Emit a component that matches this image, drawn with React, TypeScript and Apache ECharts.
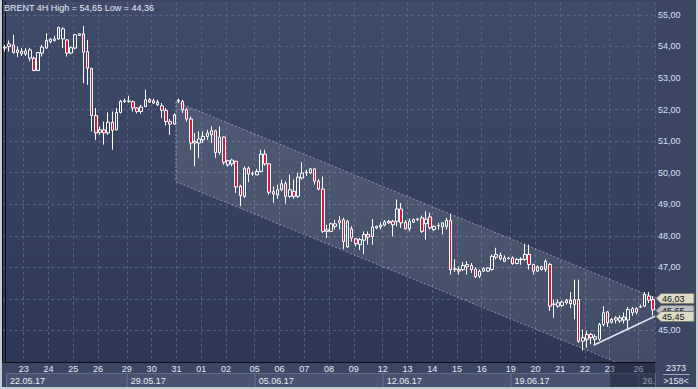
import { useEffect, useRef } from 'react';
import * as echarts from 'echarts';

// ---- data (4H candles, 22.05.17 – 26.06.17) ----
const opens = [
  53.95, 54.00, 54.05, 53.81, 53.85, 53.76, 53.63, 53.63, 53.24, 53.79,
  53.95, 54.15, 54.19, 54.24, 54.24, 54.21, 53.79, 53.95, 54.35, 54.40,
  53.84, 53.31, 51.81, 51.28, 51.36, 51.26, 51.60, 51.36, 51.91, 52.26,
  52.27, 52.25, 52.05, 51.94, 52.10, 52.31, 52.28, 52.15, 52.12, 51.97,
  51.62, 51.54, 52.27, 52.26, 51.99, 51.70, 50.94, 50.94, 51.04, 51.15,
  51.20, 51.33, 50.64, 51.13, 50.25, 50.28, 50.36, 49.57, 49.25, 50.14,
  49.96, 49.93, 50.04, 50.59, 50.28, 49.40, 49.30, 49.46, 49.65, 49.25,
  49.41, 49.25, 49.83, 50.00, 49.99, 50.12, 49.73, 49.48, 48.14, 48.14,
  48.30, 48.41, 48.51, 47.65, 48.22, 47.90, 47.72, 47.86, 48.04, 47.98,
  48.25, 48.28, 48.34, 48.41, 48.46, 48.46, 48.85, 48.43, 48.22, 48.43,
  48.51, 48.57, 48.38, 48.60, 48.20, 48.32, 48.28, 48.30, 48.49, 46.93,
  46.93, 46.93, 47.02, 47.06, 46.95, 46.72, 46.88, 46.88, 46.93, 47.32,
  47.38, 47.19, 47.28, 47.30, 47.12, 47.24, 47.25, 47.41, 47.09, 46.88,
  46.93, 46.93, 47.09, 45.82, 45.77, 45.79, 45.88, 45.96, 45.82, 45.98,
  44.66, 44.72, 44.87, 44.72, 44.72, 45.19, 45.59, 45.26, 45.33, 45.30,
  45.33, 45.33, 45.56, 45.69, 45.74, 45.77, 46.09, 45.98,
];
const closes = [
  53.98, 54.08, 53.81, 53.89, 53.77, 53.86, 53.89, 53.24, 53.81, 53.98,
  54.19, 54.23, 54.24, 54.60, 54.56, 53.79, 53.96, 54.37, 54.40, 53.82,
  53.31, 51.81, 51.26, 51.36, 51.26, 51.60, 51.34, 51.91, 52.26, 52.28,
  52.26, 52.05, 51.94, 52.08, 52.31, 52.24, 52.21, 52.24, 51.98, 51.62,
  51.54, 51.83, 52.29, 51.99, 51.70, 50.94, 50.99, 51.07, 51.15, 51.26,
  51.33, 50.64, 51.13, 50.33, 50.38, 50.40, 49.55, 49.27, 50.14, 49.96,
  49.97, 50.04, 50.59, 50.28, 49.38, 49.33, 49.46, 49.65, 49.25, 49.46,
  49.25, 49.86, 49.99, 50.01, 50.12, 49.73, 49.48, 48.14, 48.19, 48.38,
  48.38, 48.48, 47.82, 48.46, 47.93, 47.75, 47.88, 48.04, 47.96, 48.28,
  48.30, 48.34, 48.44, 48.46, 48.35, 48.85, 48.41, 48.22, 48.46, 48.51,
  48.53, 48.14, 48.53, 48.25, 48.30, 48.33, 48.41, 48.49, 46.93, 46.95,
  46.88, 47.06, 47.09, 46.93, 46.70, 46.88, 46.96, 46.98, 47.35, 47.41,
  47.27, 47.30, 47.29, 47.12, 47.25, 47.26, 47.41, 47.09, 46.88, 47.02,
  47.02, 47.19, 45.77, 45.84, 45.88, 45.90, 45.96, 45.85, 45.98, 44.66,
  44.77, 44.87, 44.77, 44.80, 45.19, 45.56, 45.24, 45.35, 45.40, 45.40,
  45.42, 45.66, 45.69, 45.58, 45.76, 46.14, 45.96, 45.65,
];
const lows = [
  53.84, 53.84, 53.77, 53.66, 53.70, 53.70, 53.53, 53.21, 53.22, 53.68,
  53.93, 54.10, 54.16, 54.21, 53.95, 53.68, 53.75, 53.91, 54.34, 52.84,
  52.78, 51.31, 51.04, 51.20, 50.89, 51.20, 50.73, 51.34, 51.88, 52.21,
  52.21, 51.94, 51.88, 51.86, 52.08, 52.21, 52.18, 52.12, 51.73, 51.49,
  51.20, 51.51, 52.21, 51.89, 51.62, 50.73, 50.20, 50.46, 50.94, 51.04,
  50.94, 50.47, 50.57, 50.25, 50.19, 50.20, 49.36, 48.94, 49.20, 49.70,
  49.90, 49.92, 50.01, 50.22, 49.30, 49.04, 49.17, 49.41, 49.02, 49.20,
  49.17, 49.20, 49.78, 49.90, 49.96, 49.62, 49.44, 48.09, 47.93, 48.13,
  48.20, 48.20, 47.58, 47.62, 47.82, 47.66, 47.55, 47.41, 47.72, 47.72,
  48.21, 48.20, 48.30, 48.38, 47.98, 48.30, 48.25, 48.20, 48.14, 48.41,
  48.46, 48.09, 47.88, 48.20, 48.15, 48.20, 48.04, 48.20, 46.77, 46.85,
  46.77, 46.88, 46.77, 46.82, 46.66, 46.66, 46.85, 46.86, 46.90, 47.25,
  47.22, 47.17, 47.25, 47.08, 47.10, 47.08, 47.20, 46.93, 46.77, 46.85,
  46.90, 46.85, 45.62, 45.40, 45.71, 45.74, 45.82, 45.71, 45.35, 44.61,
  44.36, 44.45, 44.56, 44.54, 44.67, 45.13, 45.11, 45.22, 45.22, 45.24,
  45.22, 45.03, 45.46, 45.51, 45.71, 45.74, 45.87, 45.47,
];
const highs = [
  54.05, 54.19, 54.37, 54.00, 53.95, 53.95, 53.95, 53.68, 53.82, 54.05,
  54.42, 54.27, 54.34, 54.63, 54.61, 54.23, 54.00, 54.40, 54.41, 54.65,
  54.21, 53.31, 52.05, 51.47, 51.62, 51.91, 51.94, 52.05, 52.31, 52.35,
  52.44, 52.29, 52.07, 52.15, 52.63, 52.37, 52.35, 52.31, 52.21, 52.05,
  51.70, 51.88, 52.35, 52.31, 52.05, 51.78, 51.26, 51.31, 51.31, 51.36,
  51.47, 51.36, 51.47, 51.15, 50.41, 50.44, 50.38, 49.62, 50.20, 50.20,
  50.04, 50.12, 50.73, 50.73, 50.30, 49.57, 49.62, 49.78, 49.73, 49.94,
  49.78, 50.00, 50.33, 50.10, 50.15, 50.14, 49.80, 49.88, 48.35, 48.42,
  48.51, 48.62, 48.57, 48.51, 48.30, 47.93, 47.93, 48.14, 48.14, 48.53,
  48.32, 48.43, 48.50, 48.50, 48.51, 49.15, 49.04, 48.50, 48.55, 48.55,
  48.57, 48.64, 48.78, 48.73, 48.32, 48.41, 48.43, 48.57, 48.70, 47.25,
  47.03, 47.17, 47.20, 47.14, 47.00, 46.93, 47.00, 47.00, 47.41, 47.62,
  47.47, 47.38, 47.33, 47.35, 47.30, 47.32, 47.75, 47.72, 47.12, 47.06,
  47.05, 47.25, 47.14, 45.98, 45.98, 45.95, 46.00, 46.22, 46.61, 46.61,
  45.03, 44.98, 44.93, 44.88, 45.24, 45.77, 45.62, 45.40, 45.45, 45.48,
  45.57, 45.74, 45.74, 45.74, 45.82, 46.22, 46.22, 46.09,
];

const dayStarts = [5, 11, 17, 23, 30, 36, 42, 48, 54, 61, 67, 73, 79, 85, 92, 98, 104, 110, 116, 123, 129, 135, 141, 147, 154];
const dayLabels = ['23', '24', '25', '26', '29', '30', '31', '01', '02', '05', '06', '07', '08', '09', '12', '13', '14', '15', '16', '19', '20', '21', '22', '23', '26'];
const weekStarts = [0, 30, 61, 92, 123, 154];
const weekLabels = ['22.05.17', '29.05.17', '05.06.17', '12.06.17', '19.06.17', '26.'];

// trend channel (x in candle-index units) and support line
const channelX = [41.4, 157.5];
const channelUpper = [52.25, 46.03];
const channelLower = [49.71, 43.49];
const supportX = [142.6, 157.5];
const supportY = [44.53, 45.45];

// price tags on the right scale
const tagValues = [45.65, 46.03, 45.45];

const titleText = 'BRENT 4H High = 54,65 Low = 44,36';
const totalBars = '2373';
const visibleBars = '>158<';

const TAG_FILLS = ['#b7bcc8', '#dcdcc6', '#dcdcc6'];
const FONT = '"Liberation Sans", Arial, sans-serif';

const fmt = (v: number) => v.toFixed(2).replace('.', ',');

export default function App() {
  const ref = useRef<HTMLDivElement>(null);

  useEffect(() => {
    if (!ref.current) return;
    const chart = echarts.init(ref.current, undefined, { renderer: 'svg' });
    const n = opens.length;
    const categories = opens.map((_, i) => String(i));
    const labelAt: Record<number, string> = {};
    dayStarts.forEach((d, i) => (labelAt[d] = dayLabels[i]));
    const isDay = (i: number) => labelAt[i] !== undefined;
    const candles = opens.map((o, i) => [o, closes[i], lows[i], highs[i]]);
    // axis labels hidden underneath a price tag (as in the reference)
    const coveredByTag = (v: number) => tagValues.some((t) => Math.abs(t - v) < 0.2);

    chart.setOption({
      animation: false,
      backgroundColor: '#3a4662',
      textStyle: { fontFamily: FONT },
      title: {
        text: titleText,
        left: 4,
        top: 3,
        padding: 0,
        textStyle: { fontSize: 9, fontWeight: 'normal', color: '#e6ecf6', fontFamily: FONT },
      },
      grid: {
        left: 3,
        right: 43,
        top: 2,
        bottom: 27,
        show: true,
        borderWidth: 0,
        backgroundColor: new echarts.graphic.LinearGradient(0, 0, 0, 1, [
          { offset: 0, color: '#3e4b69' },
          { offset: 1, color: '#2c3856' },
        ]),
      },
      xAxis: [
        {
          type: 'category',
          data: categories,
          boundaryGap: true,
          axisLine: { show: true, lineStyle: { color: '#0e0e10', width: 1 } },
          axisTick: { show: false },
          axisLabel: {
            interval: (i: number) => isDay(i),
            formatter: (_v: string, i: number) => labelAt[i] ?? '',
            color: '#e6ecf6',
            fontSize: 9,
            margin: 2,
            padding: [0, 4, 0, 0],
          },
          splitLine: {
            show: true,
            interval: (i: number) => isDay(i),
            lineStyle: { color: '#56637f', type: [3, 3], width: 1 },
          },
        },
        { type: 'value', min: -0.5, max: n - 0.5, show: false },
      ],
      yAxis: {
        type: 'value',
        position: 'right',
        min: 44,
        max: 55.41,
        interval: 1,
        axisLine: { show: true, lineStyle: { color: '#0e0e10', width: 1 } },
        axisTick: { show: false },
        axisLabel: {
          formatter: (v: number) => (coveredByTag(v) ? '' : fmt(v)),
          color: '#d2e2fa',
          fontSize: 9,
          margin: 3,
          showMinLabel: false,
          showMaxLabel: false,
        },
        splitLine: {
          show: true,
          showMinLine: false,
          showMaxLine: false,
          lineStyle: { color: '#56637f', type: [3, 3], width: 1 },
        },
      },
      series: [
        {
          type: 'custom',
          name: 'channel',
          xAxisIndex: 1,
          yAxisIndex: 0,
          clip: true,
          z: 1,
          silent: true,
          data: [[channelX[0], channelUpper[0], channelLower[0], channelX[1], channelUpper[1], channelLower[1]]],
          renderItem: (_p: any, api: any) => {
            const a = api.coord([api.value(0), api.value(1)]);
            const b = api.coord([api.value(3), api.value(4)]);
            const c = api.coord([api.value(3), api.value(5)]);
            const d = api.coord([api.value(0), api.value(2)]);
            const edge = { stroke: 'rgba(215,222,236,0.5)', lineWidth: 1, lineDash: [2, 2], fill: null };
            return {
              type: 'group',
              children: [
                { type: 'polygon', shape: { points: [a, b, c, d] }, style: { fill: 'rgba(255,255,255,0.11)' } },
                { type: 'polyline', shape: { points: [a, b] }, style: edge },
                { type: 'polyline', shape: { points: [d, c] }, style: edge },
                { type: 'polyline', shape: { points: [a, d] }, style: edge },
              ],
            };
          },
        },
        {
          type: 'candlestick',
          xAxisIndex: 0,
          yAxisIndex: 0,
          data: candles,
          barWidth: 3,
          z: 2,
          itemStyle: {
            color: 'transparent',
            color0: '#d8173d',
            borderColor: '#ffffff',
            borderColor0: '#ffffff',
            borderWidth: 1,
          },
        },
        {
          type: 'line',
          xAxisIndex: 1,
          yAxisIndex: 0,
          data: supportX.map((x, i) => [x, supportY[i]]),
          symbol: 'none',
          z: 3,
          lineStyle: { color: '#e4e6ea', width: 1.5 },
        },
        {
          type: 'custom',
          name: 'weeks',
          xAxisIndex: 1,
          yAxisIndex: 0,
          clip: false,
          silent: true,
          z: 3,
          data: weekStarts.map((s, i) => [s, i < weekStarts.length - 1 ? weekStarts[i + 1] : n]),
          renderItem: (p: any, api: any) => {
            const x0 = Math.max(api.coord([api.value(0) - 0.5, 44])[0], 6);
            const x1 = api.coord([api.value(1) - 0.5, 44])[0];
            return {
              type: 'group',
              children: [
                {
                  type: 'rect',
                  shape: { x: x0 + 0.5, y: 373.5, width: x1 - x0, height: 14 },
                  style: { fill: '#48546f', stroke: '#606c89', lineWidth: 1 },
                },
                {
                  type: 'text',
                  x: x0 + 4,
                  y: 380.5,
                  style: {
                    text: weekLabels[p.dataIndex],
                    fill: '#e6ecf6',
                    font: `9px ${FONT}`,
                    verticalAlign: 'middle',
                  },
                },
              ],
            };
          },
        },
        {
          type: 'custom',
          name: 'tags',
          xAxisIndex: 1,
          yAxisIndex: 0,
          clip: false,
          silent: true,
          z: 10,
          data: tagValues.map((v) => [n - 0.5, v]),
          renderItem: (p: any, api: any) => {
            const pt = api.coord([api.value(0), api.value(1)]);
            const x = pt[0] + 1;
            const y = Math.round(pt[1]) + 0.5;
            return {
              type: 'group',
              children: [
                {
                  type: 'polygon',
                  shape: { points: [[x, y], [x + 5, y - 5], [x + 38, y - 5], [x + 38, y + 5], [x + 5, y + 5]] },
                  style: { fill: TAG_FILLS[p.dataIndex], stroke: '#7c7e70', lineWidth: 1 },
                },
                {
                  type: 'text',
                  x: x + 6,
                  y: y,
                  style: {
                    text: fmt(api.value(1)),
                    fill: '#111111',
                    font: `9px ${FONT}`,
                    verticalAlign: 'middle',
                  },
                },
              ],
            };
          },
        },
      ],
      graphic: [
        { type: 'rect', shape: { x: 610, y: 362, width: 45, height: 25 }, style: { fill: 'rgba(8,14,28,0.38)' }, z: 100 },
        { type: 'rect', shape: { x: 2, y: 0, width: 1, height: 362 }, style: { fill: '#0e0e10' }, z: 100 },
        { type: 'rect', shape: { x: 0, y: 0, width: 2, height: 389 }, style: { fill: '#c6cbd4' }, z: 100 },
        { type: 'rect', shape: { x: 696, y: 0, width: 2, height: 389 }, style: { fill: '#c6cbd4' }, z: 100 },
        { type: 'rect', shape: { x: 0, y: 387, width: 698, height: 2 }, style: { fill: '#c6cbd4' }, z: 100 },
        {
          type: 'text', x: 676, y: 368, z: 100,
          style: { text: totalBars, fill: '#e6ecf6', font: `9px ${FONT}`, align: 'center', verticalAlign: 'middle' },
        },
        { type: 'line', shape: { x1: 663, y1: 374.5, x2: 690, y2: 374.5 }, style: { stroke: '#9aa4b8', lineWidth: 1 }, z: 100 },
        {
          type: 'text', x: 676, y: 381, z: 100,
          style: { text: visibleBars, fill: '#e6ecf6', font: `9px ${FONT}`, align: 'center', verticalAlign: 'middle' },
        },
      ],
    });
    return () => chart.dispose();
  }, []);

  return (
    <div style={{ position: 'fixed', left: 0, top: 0, width: 698, height: 389 }}>
      <div ref={ref} style={{ width: 698, height: 389 }} />
    </div>
  );
}
